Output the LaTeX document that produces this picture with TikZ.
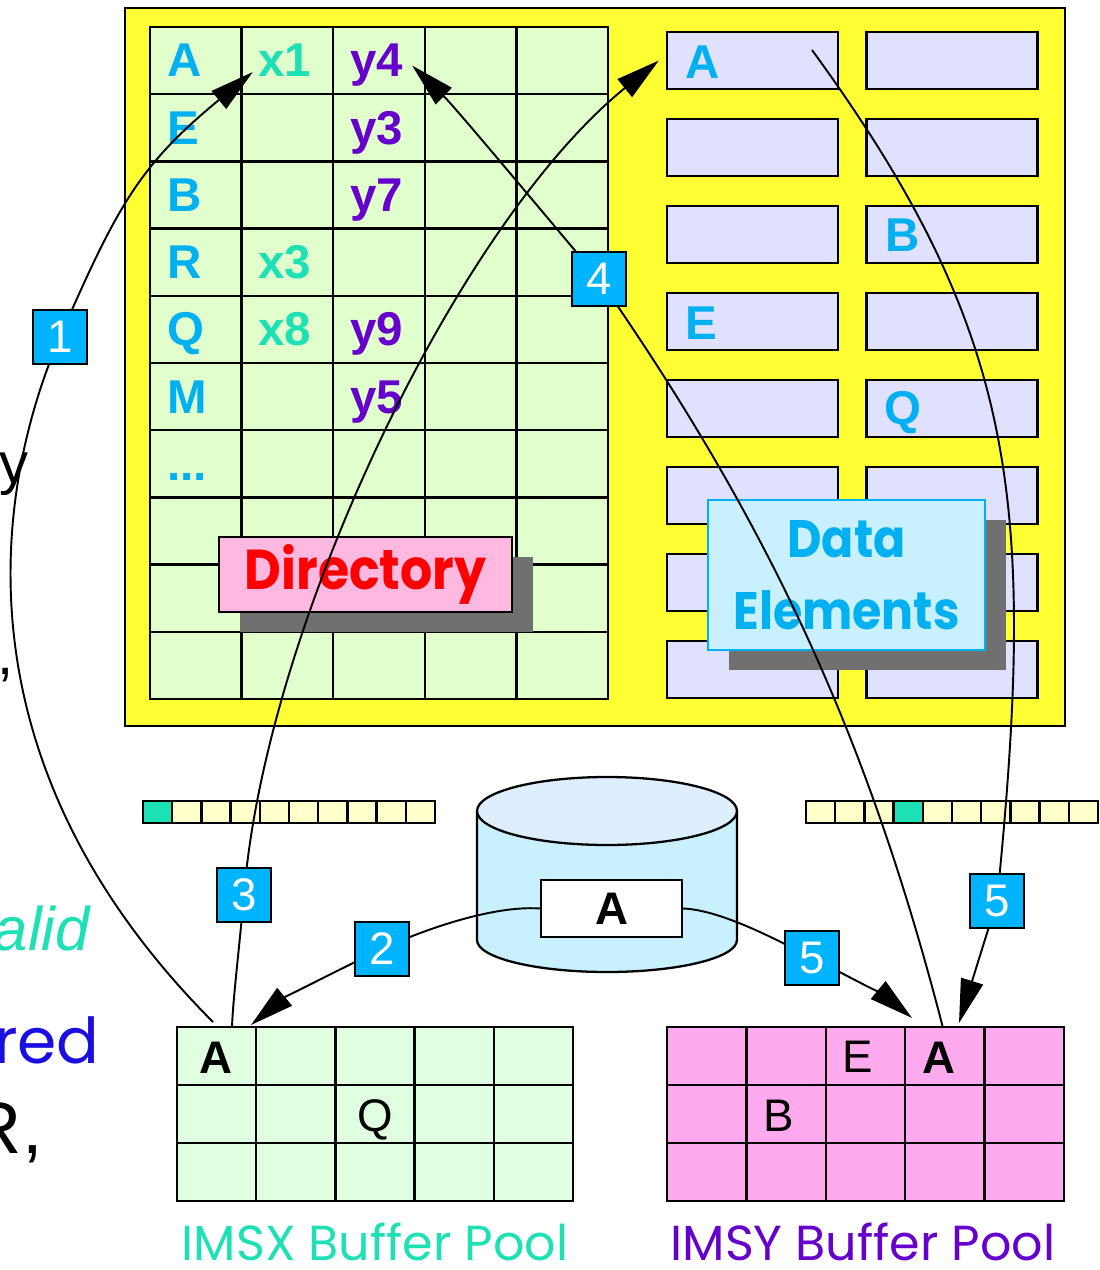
\documentclass[tikz,border=0pt]{standalone}
\usepackage{fontspec}
\setmainfont{Liberation Sans}
\newfontfamily\comic{Poppins}
\newfontfamily\comicnarrow[FakeStretch=0.9]{Poppins}
\usetikzlibrary{arrows.meta,shadows}
\definecolor{slideyellow}{RGB}{255,255,51}
\definecolor{dirgreen}{RGB}{224,255,204}
\definecolor{keycyan}{RGB}{0,176,240}
\definecolor{xteal}{RGB}{29,224,181}
\definecolor{ypurple}{RGB}{102,0,204}
\definecolor{elemlav}{RGB}{224,224,255}
\definecolor{dirpink}{RGB}{255,185,225}
\definecolor{shadowgray}{RGB}{112,112,112}
\definecolor{elemblue}{RGB}{200,240,255}
\definecolor{barcream}{RGB}{255,255,204}
\definecolor{cyltop}{RGB}{221,238,255}
\definecolor{poolx}{RGB}{224,255,224}
\definecolor{pooly}{RGB}{255,170,238}
\definecolor{stepblue}{RGB}{0,180,255}
\definecolor{txtblue}{RGB}{26,15,224}
\tikzset{
  cell/.style    = {draw, line width=1.3pt},
  dkey/.style    = {anchor=base west, inner sep=0, font=\fontsize{27}{30}\selectfont\bfseries},
  elem/.style    = {rectangle, draw, line width=1.3pt, fill=elemlav, minimum width=3.42cm, minimum height=1.14cm, inner sep=0},
  shade/.style   = {drop shadow={shadow xshift=0.42cm, shadow yshift=-0.4cm, fill=shadowgray, opacity=1}},
  dirlbl/.style  = {rectangle, draw, line width=1.3pt, fill=dirpink, shade, minimum width=5.86cm, minimum height=1.5cm, text=red, font=\comicnarrow\bfseries\fontsize{32}{34}\selectfont},
  elemlbl/.style = {rectangle, draw=keycyan, line width=1.3pt, fill=elemblue, shade, minimum width=5.54cm, minimum height=3cm, text=keycyan, align=center, font=\comicnarrow\bfseries\fontsize{30}{41}\selectfont},
  dbbox/.style   = {rectangle, draw, line width=1.3pt, fill=white, minimum width=2.82cm, minimum height=1.14cm, font=\fontsize{26}{28}\selectfont\bfseries},
  bufl/.style    = {anchor=base, inner sep=0, font=\fontsize{26}{28}\selectfont},
  pooltxt/.style = {anchor=base, inner sep=0, font=\comic\fontsize{28}{30}\selectfont},
  stepnum/.style = {rectangle, draw, line width=1.3pt, fill=stepblue, text=white, minimum size=1.08cm, inner sep=0, font=\fontsize{26}{28}\selectfont},
  side/.style    = {anchor=base east, inner sep=0},
  conn/.style    = {line width=1.1pt},
  arr/.style     = {conn, -{Triangle[length=25pt,width=13pt]}}
}

\begin{document}
\begin{tikzpicture}[x=0.02cm, y=-0.02cm]
  \useasboundingbox (0,0) rectangle (1099,1270);
  \clip (0,0) rectangle (1099,1270);

  % directory and data elements
  \draw[line width=1.5pt, fill=slideyellow] (125,8) rectangle (1065,726);
  \foreach \i in {0,...,4} \foreach \j in {0,...,9}
    \draw[cell, fill=dirgreen] ({150+91.6*\i},{27+67.2*\j}) rectangle +(91.6,67.2);
  \foreach \r in {1,...,8} {
    \node[elem] (L\r) at (752.5,{60.5+87*(\r-1)}) {};
    \node[elem] (R\r) at (952,{60.5+87*(\r-1)}) {};
  }
  \node[dkey, text=keycyan] (kA) at (167,77) {A};    \node[dkey, text=xteal] (x1) at (258,77) {x1};    \node[dkey, text=ypurple] (y4) at (350,77) {y4};
  \node[dkey, text=keycyan] (kE) at (167,144.2) {E};                                                   \node[dkey, text=ypurple] (y3) at (350,144.2) {y3};
  \node[dkey, text=keycyan] (kB) at (167,211.4) {B};                                                   \node[dkey, text=ypurple] (y7) at (350,211.4) {y7};
  \node[dkey, text=keycyan] (kR) at (167,278.6) {R}; \node[dkey, text=xteal] (x3) at (258,278.6) {x3};
  \node[dkey, text=keycyan] (kQ) at (167,345.8) {Q}; \node[dkey, text=xteal] (x8) at (258,345.8) {x8}; \node[dkey, text=ypurple] (y9) at (350,345.8) {y9};
  \node[dkey, text=keycyan] (kM) at (167,413) {M};                                                     \node[dkey, text=ypurple] (y5) at (350,413) {y5};
  \node[dkey, text=keycyan] (kdots) at (167,480.2) {...};
  \node[dkey, text=keycyan] (eA) at (685,79) {A};  \node[dkey, text=keycyan] (eE) at (685,339) {E};
  \node[dkey, text=keycyan] (eB) at (885,252) {B}; \node[dkey, text=keycyan] (eQ) at (884,424) {Q};
  \node[dirlbl] (dirlab) at (365.5,574.5) {Directory};
  \node[elemlbl] (elemlab) at (846.5,575) {Data\\Elements};

  % buffer bars and database
  \foreach \i in {0,...,9} {
    \draw[cell, fill=barcream] ({143+29.2*\i},801) rectangle +(29.2,22);
    \draw[cell, fill=barcream] ({806+29.2*\i},801) rectangle +(29.2,22);
  }
  \draw[cell, fill=xteal] (143,801) rectangle +(29.2,22);
  \draw[cell, fill=xteal] (893.6,801) rectangle +(29.2,22);
  \fill[elemblue] (477,811) -- (477,940) arc[start angle=180, end angle=360, x radius=2.6cm, y radius=0.64cm] -- (737,811) -- cycle;
  \draw[line width=1.3pt] (477,811) -- (477,940) arc[start angle=180, end angle=360, x radius=2.6cm, y radius=0.64cm] -- (737,811);
  \draw[line width=1.3pt, fill=cyltop] (607,811) ellipse [x radius=2.6cm, y radius=0.68cm];
  \node[dbbox] (dbA) at (611.5,908.5) {A};

  % buffer pools
  \foreach \i in {0,...,4} \foreach \j in {0,...,2} {
    \draw[cell, fill=poolx] ({177+79.2*\i},{1027+58*\j}) rectangle +(79.2,58);
    \draw[cell, fill=pooly] ({667+79.4*\i},{1027+58*\j}) rectangle +(79.4,58);
  }
  \node[bufl, font=\fontsize{26}{28}\selectfont\bfseries] (ixA) at (216,1073) {A};
  \node[bufl] (ixQ) at (375,1131) {Q};
  \node[bufl] (iyE) at (858,1072) {E};
  \node[bufl, font=\fontsize{26}{28}\selectfont\bfseries] (iyA) at (939,1073) {A};
  \node[bufl] (iyB) at (779,1131) {B};
  \node[pooltxt, text=xteal] (xlab) at (375,1260) {IMSX Buffer Pool};
  \node[pooltxt, text=ypurple] (ylab) at (863,1260) {IMSY Buffer Pool};

  % text cut off at the left edge
  \node[side, font=\fontsize{33}{36}\selectfont] (ty) at (29,483) {y};
  \node[side, font=\fontsize{33}{36}\selectfont] (tc) at (14,674) {,};
  \node[side, text=xteal, font=\fontsize{35}{38}\selectfont\itshape] (tv) at (90,950) {alid};
  \node[side, text=txtblue, font=\comic\fontsize{36}{38}\selectfont] (tr) at (100,1063) {red};
  \node[side, font=\fontsize{42}{44}\selectfont] (tR) at (43,1153) {R,};

  % steps
  \coordinate (c1) at (60,337);  \coordinate (c2) at (382,949); \coordinate (c3) at (244,895);
  \coordinate (c4) at (599,279); \coordinate (c5a) at (812,958); \coordinate (c5b) at (997,901);
  \coordinate (s1) at (213,1022); \coordinate (s3) at (232,1027); \coordinate (t2) at (251,1025);
  \coordinate (s4) at (943,1028); \coordinate (s5) at (812,50);   \coordinate (t5a) at (912,1018); \coordinate (t5b) at (959,1023);
  \draw[conn] (s1) .. controls (-66,742) and (8,457) .. (c1);
  \draw[arr] (c1) .. controls (118,204) and (140,165) .. ([shift={(-3pt,3pt)}]x1.south west);
  \draw[conn] (dbA.west) .. controls (491,905) and (418,932) .. (c2);
  \draw[arr] (c2) .. controls (346,966) and (282,999) .. (t2);
  \draw[conn] (s3) .. controls (233,1000) and (238,960) .. (c3);
  \draw[arr] (c3) .. controls (265,628) and (456,225) .. ([xshift=-4pt]L1.west);
  \draw[conn] (s4) .. controls (868,737) and (770,525) .. (c4);
  \draw[arr] (c4) .. controls (560,233) and (456,108) .. ([xshift=5pt]y4.east);
  \draw[conn] (dbA.east) .. controls (722,910) and (781,942) .. (c5a);
  \draw[arr] (c5a) .. controls (839,971) and (889,999) .. (t5a);
  \draw[conn] (s5) .. controls (1018,333) and (1037,501) .. (c5b);
  \draw[arr] (c5b) -- (t5b);
  \node[stepnum] (n1) at (c1) {1};  \node[stepnum] (n2) at (c2) {2};  \node[stepnum] (n3) at (c3) {3};
  \node[stepnum] (n4) at (c4) {4};  \node[stepnum] (n5a) at (c5a) {5}; \node[stepnum] (n5b) at (c5b) {5};
\end{tikzpicture}
\end{document}
